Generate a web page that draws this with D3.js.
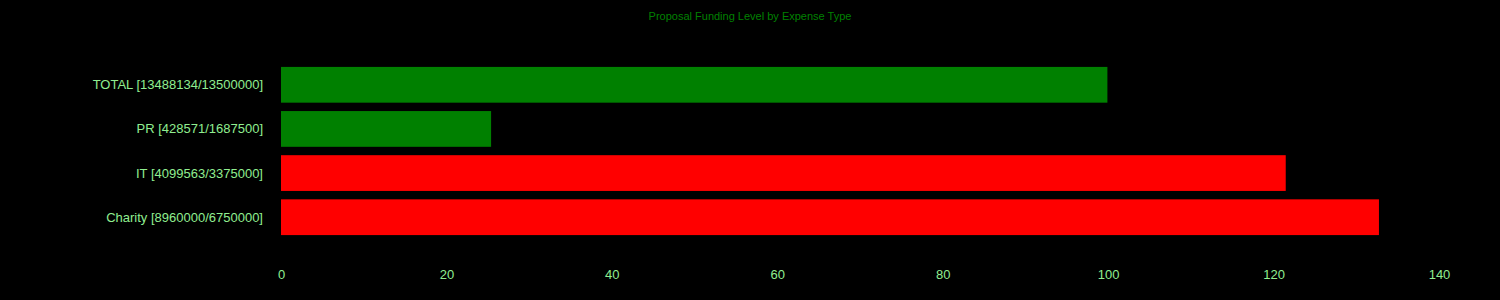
<!DOCTYPE html>
<html>
<head>
<meta charset="utf-8">
<script src="https://cdn.jsdelivr.net/npm/d3@7"></script>
<style>
	html, body { margin: 0; padding: 0; background: #000; }
	svg { display: block; }
</style>
</head>
<body>
<div id="chart"></div>
<script>
// data
const categories = ['TOTAL', 'PR', 'IT', 'Charity']
const funded = [13488134, 428571, 4099563, 8960000]
const requested = [13500000, 1687500, 3375000, 6750000]
const percent = [99.91, 25.40, 121.47, 132.74]
const barColors = ['#008000', '#008000', '#ff0000', '#ff0000']
const xTicks = [0, 20, 40, 60, 80, 100, 120, 140]

const width = 1500
const height = 300

const svg = d3.select('#chart')
	.append('svg')
	.attr('width', width)
	.attr('height', height)

svg.append('rect')
	.attr('width', width)
	.attr('height', height)
	.attr('fill', '#000')

svg.append('text')
	.attr('x', 750)
	.attr('y', 20)
	.attr('text-anchor', 'middle')
	.attr('fill', '#008000')
	.attr('font-size', 11)
	.style('font-family', 'Liberation Sans, Arial, sans-serif')
	.text('Proposal Funding Level by Expense Type')

const xScale = d3.scaleLinear()
	.domain([0, 140])
	.range([281, 1439])

const yScale = d3.scaleBand()
	.domain(categories)
	.range([62.5, 239.5])
	.paddingInner(0.19)
	.paddingOuter(0.1)

const labels = categories.map((c, i) => c + ' [' + funded[i] + '/' + requested[i] + ']')

for (let i = 0; i < categories.length; i++) {
	svg.append('rect')
		.attr('x', xScale(0))
		.attr('y', yScale(categories[i]))
		.attr('width', xScale(percent[i]) - xScale(0))
		.attr('height', yScale.bandwidth())
		.attr('fill', barColors[i])

	svg.append('text')
		.attr('x', 263)
		.attr('y', yScale(categories[i]) + yScale.bandwidth() / 2)
		.attr('dy', '0.35em')
		.attr('text-anchor', 'end')
		.attr('fill', '#90ee90')
		.attr('font-size', 13)
		.style('font-family', 'Liberation Sans, Arial, sans-serif')
		.text(labels[i])
}

const xAxis = d3.axisBottom(xScale)
	.tickValues(xTicks)
	.tickSize(0)
	.tickPadding(0)

const ax = svg.append('g')
	.attr('transform', 'translate(0,270)')
	.call(xAxis)

ax.select('.domain').remove()
ax.selectAll('text')
	.attr('fill', '#90ee90')
	.attr('font-size', 13)
	.style('font-family', 'Liberation Sans, Arial, sans-serif')
</script>
</body>
</html>
